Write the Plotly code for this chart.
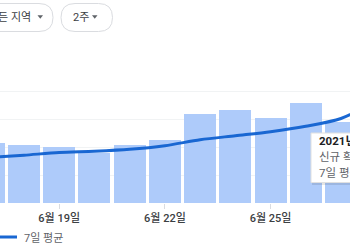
import plotly.graph_objects as go

# ---- data ----
dates = ["2021-06-17", "2021-06-18", "2021-06-19", "2021-06-20", "2021-06-21",
         "2021-06-22", "2021-06-23", "2021-06-24", "2021-06-25", "2021-06-26",
         "2021-06-27", "2021-06-28"]
new_cases = [435, 414, 406, 361, 419, 455, 640, 671, 614, 720, 585, None]
avg7 = [328, 344, 363, 372, 386, 412, 455, 484, 513, 552, 608, 735]
tick_dates = ["2021-06-19", "2021-06-22", "2021-06-25"]
tick_labels = ["6월 19일", "6월 22일", "6월 25일"]
tooltip_lines = ["2021년 6월 27일", "신규 확진자: 585", "7일 평균: 608"]
buttons = ["모든 지역", "2주"]
legend_label = "7일 평균"

BAR = "#aecbfa"
LINE = "#1967d2"
FONT = "Roboto, Noto Sans CJK KR, sans-serif"

W, H = 350, 250
T, B = 64, 47
PH = H - T - B
BASE = H - B


def px(x):
    return x / W


def py(y):
    return (BASE - y) / PH


fig = go.Figure()
fig.add_trace(go.Bar(x=dates, y=new_cases, marker_color=BAR, marker_line_width=0,
                     width=0.909 * 86400000, name="신규 확진자", showlegend=False,
                     hoverinfo="skip"))
fig.add_trace(go.Scatter(x=dates, y=avg7, mode="lines",
                         line=dict(color=LINE, width=3, shape="spline", smoothing=0.8),
                         name=legend_label, showlegend=False, hoverinfo="skip"))

shapes = []
annotations = []


def pill(x0, x1, y0, y1, r):
    X = lambda v: px(v)
    Y = lambda v: py(v)
    p = (f"M{X(x0 + r)},{Y(y0)} L{X(x1 - r)},{Y(y0)} "
         f"Q{X(x1)},{Y(y0)} {X(x1)},{Y((y0 + y1) / 2)} "
         f"Q{X(x1)},{Y(y1)} {X(x1 - r)},{Y(y1)} "
         f"L{X(x0 + r)},{Y(y1)} "
         f"Q{X(x0)},{Y(y1)} {X(x0)},{Y((y0 + y1) / 2)} "
         f"Q{X(x0)},{Y(y0)} {X(x0 + r)},{Y(y0)} Z")
    return dict(type="path", xref="paper", yref="paper", path=p,
                line=dict(color="#dadce0", width=1), fillcolor="white")


def tri(x0, x1, y0, y1):
    p = (f"M{px(x0)},{py(y0)} L{px(x1)},{py(y0)} L{px((x0 + x1) / 2)},{py(y1)} Z")
    return dict(type="path", xref="paper", yref="paper", path=p,
                line=dict(width=0), fillcolor="#5f6368")


shapes.append(pill(-30, 53, 3.5, 31.5, 14))
shapes.append(pill(61, 112.5, 3.5, 31.5, 14))
shapes.append(tri(37.5, 43, 15.3, 18.8))
shapes.append(tri(92, 97.5, 15.3, 18.8))
annotations.append(dict(text=buttons[0], x=px(33), y=py(17.5), xref="paper", yref="paper",
                        xanchor="right", yanchor="middle", showarrow=False,
                        font=dict(family=FONT, size=11, color="#3c4043")))
annotations.append(dict(text=buttons[1], x=px(71), y=py(17.5), xref="paper", yref="paper",
                        xanchor="left", yanchor="middle", showarrow=False,
                        font=dict(family=FONT, size=11, color="#3c4043")))

# legend
shapes.append(dict(type="line", xref="paper", yref="paper", x0=px(0), x1=px(17),
                   y0=py(237), y1=py(237), line=dict(color=LINE, width=3)))
annotations.append(dict(text=legend_label, x=px(22), y=py(237.5), xref="paper", yref="paper",
                        xanchor="left", yanchor="middle", showarrow=False,
                        font=dict(family=FONT, size=11, color="#5f6368")))

# tooltip
shapes.append(dict(type="rect", xref="paper", yref="paper", x0=px(312), x1=px(440),
                   y0=py(135), y1=py(185), line=dict(width=0),
                   fillcolor="rgba(0,0,0,0.10)"))
shapes.append(dict(type="rect", xref="paper", yref="paper", x0=px(311), x1=px(440),
                   y0=py(133), y1=py(182.5), line=dict(color="#e0e0e0", width=1),
                   fillcolor="white"))
for i, (t, yy) in enumerate(zip(tooltip_lines, [141, 157, 172.5])):
    annotations.append(dict(text=f"<b>{t}</b>" if i == 0 else t, x=px(316.5), y=py(yy),
                            xref="paper", yref="paper", xanchor="left", yanchor="middle",
                            showarrow=False,
                            font=dict(family=FONT, size=11.5,
                                      color="#202124" if i == 0 else "#5f6368")))

fig.update_layout(
    width=W, height=H,
    margin=dict(l=0, r=0, t=T, b=B, pad=0),
    paper_bgcolor="white", plot_bgcolor="white",
    bargap=0,
    shapes=shapes, annotations=annotations,
    font=dict(family=FONT),
    xaxis=dict(type="date", range=["2021-06-17 07:38", "2021-06-27 06:09"],
               tickvals=tick_dates, ticktext=tick_labels,
               ticks="outside", ticklen=5, tickcolor="#dadce0", tickwidth=1,
               showgrid=False, showline=False, zeroline=False,
               tickfont=dict(family=FONT, size=11, color="#3c4043", weight=500)),
    yaxis=dict(range=[0, 1000], dtick=200, showticklabels=False,
               gridcolor="#f1f3f4", gridwidth=1, zeroline=False, showline=False),
)

fig.write_html("out.html")
